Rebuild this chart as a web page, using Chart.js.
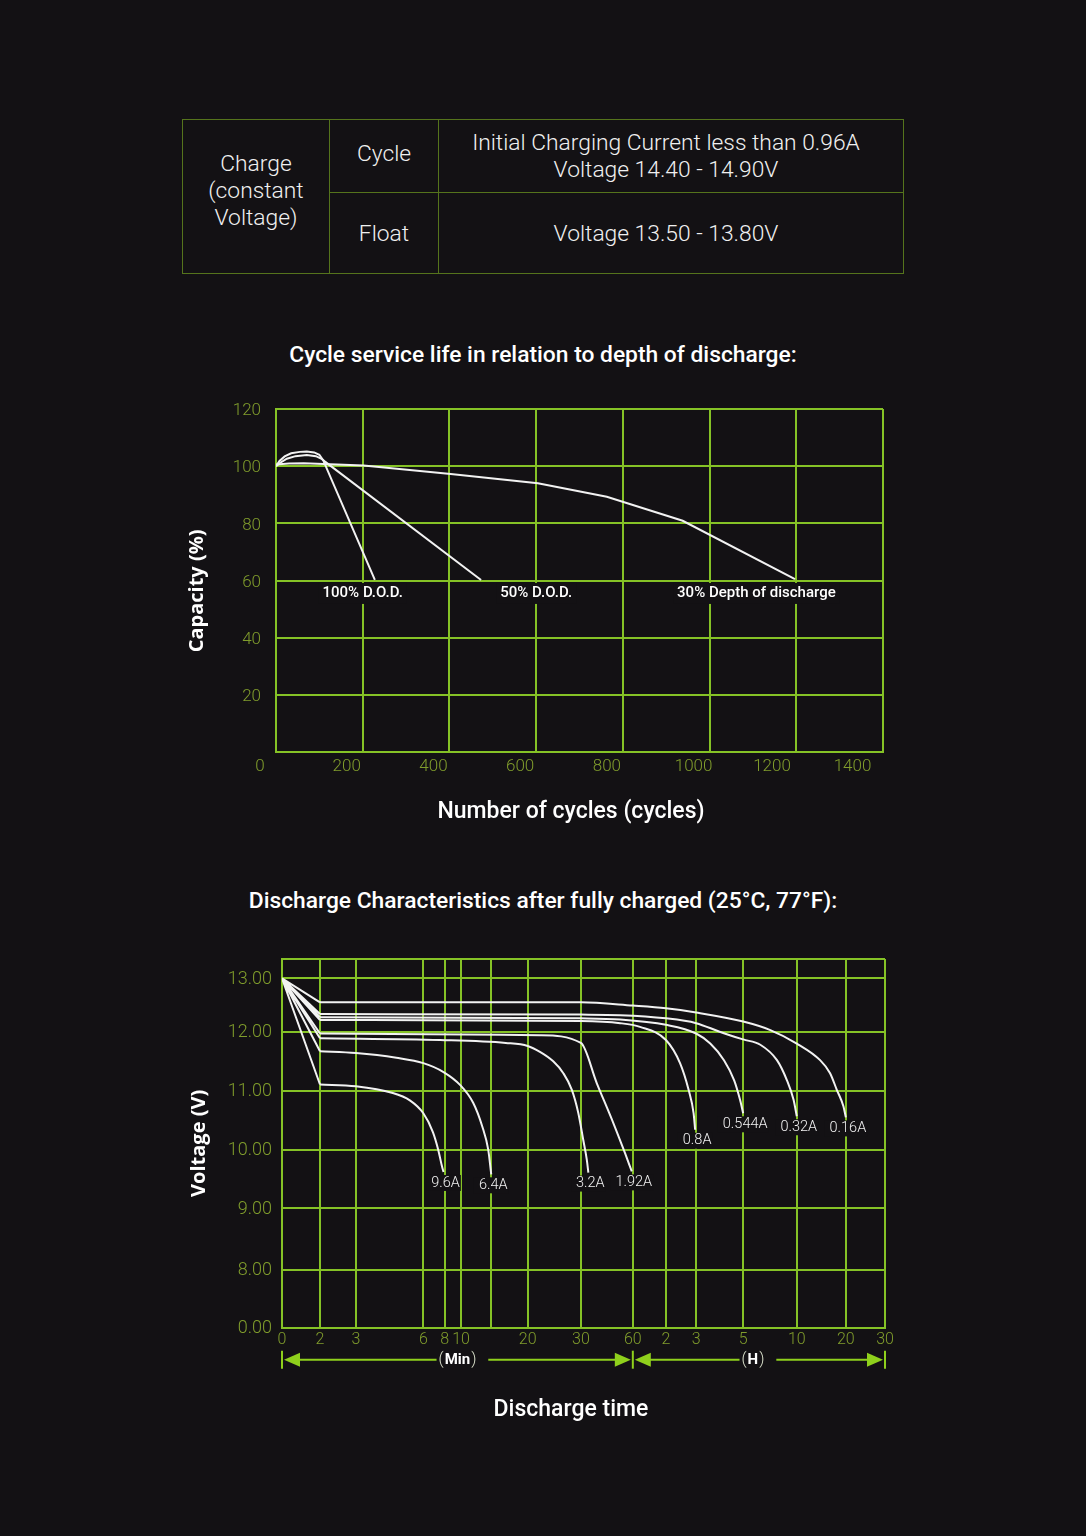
<!DOCTYPE html>
<html>
<head>
<meta charset="utf-8">
<script src="https://cdn.jsdelivr.net/npm/chart.js@4.4.1/dist/chart.umd.min.js"></script>
<style>
    body {
        margin: 0;
        background: #131114;
        width: 1086px;
        height: 1536px;
        position: relative;
        overflow: hidden;
        font-family: Roboto, sans-serif;
    }
    #spec {
        position: absolute;
        left: 182px;
        top: 119px;
        width: 722px;
        height: 155px;
        border-collapse: collapse;
        color: #f0f0f0;
        font-weight: 300;
        font-size: 22.8px;
    }
    #spec td {
        border: 1.5px solid #55741c;
        text-align: center;
        padding: 0;
        line-height: 27px;
    }
    .heading {
        position: absolute;
        left: 0;
        width: 1086px;
        text-align: center;
        color: #fff;
        font-weight: 500;
        font-size: 22.8px;
        line-height: 26px;
    }
    .axis-title {
        position: absolute;
        left: 371px;
        width: 400px;
        text-align: center;
        color: #fff;
        font-weight: 500;
        font-size: 23px;
        line-height: 26px;
    }
    canvas {
        position: absolute;
    }
</style>
</head>
<body>

<table id="spec">
    <tr style="height:73px">
        <td rowspan="2" style="width:146px; padding-bottom:12px">Charge<br>(constant<br>Voltage)</td>
        <td style="width:108px; padding-bottom:6px">Cycle</td>
        <td style="padding-right:10px">Initial Charging Current less than 0.96A<br>Voltage 14.40 - 14.90V</td>
    </tr>
    <tr style="height:81px">
        <td>Float</td>
        <td style="padding-right:10px">Voltage 13.50 - 13.80V</td>
    </tr>
</table>

<div class="heading" style="top:342px">Cycle service life in relation to depth of discharge:</div>
<canvas id="cycleChart" width="720" height="440" style="left:180px; top:395px"></canvas>
<div class="axis-title" style="top:798px">Number of cycles (cycles)</div>

<div class="heading" style="top:888px">Discharge Characteristics after fully charged (25°C, 77°F):</div>
<canvas id="dischargeChart" width="720" height="500" style="left:180px; top:940px"></canvas>
<div class="axis-title" style="top:1396px">Discharge time</div>

<script>
// cycle life chart
const cycleTicks = [0, 200, 400, 600, 800, 1000, 1200, 1400];
const capacityTicks = [0, 20, 40, 60, 80, 100, 120];

const dod100Cycles = [0, 8, 20, 35, 55, 71, 88, 100, 109, 228];
const dod100Capacity = [100, 101.8, 103.4, 104.5, 105, 105.1, 104.8, 104, 102, 60.2];
const dod50Cycles = [0, 10, 25, 45, 71, 92, 105, 113, 473];
const dod50Capacity = [100, 101.2, 102.6, 103.5, 103.9, 103.5, 102.6, 101.6, 60.2];
const dod30Cycles = [0, 30, 64, 202, 403, 604, 763, 938, 1197];
const dod30Capacity = [100.6, 100.9, 101, 100.2, 97.3, 94, 89.3, 80.9, 60.5];
const dodLabels = ["100% D.O.D.", "50% D.O.D.", "30% Depth of discharge"];

// discharge chart (time in minutes, voltage in V)
const timeTicks = [0, 2, 3, 6, 8, 10, 15, 20, 30, 60, 120, 180, 300, 600, 1200, 1800];
const timeTickLabels = ["0", "2", "3", "6", "8", "10", "", "20", "30", "60", "2", "3", "5", "10", "20", "30"];
const voltTicks = [0, 8, 9, 10, 11, 12, 13, 13.36];
const voltTickLabels = ["0.00", "8.00", "9.00", "10.00", "11.00", "12.00", "13.00", ""];

const currents = ["9.6A", "6.4A", "3.2A", "1.92A", "0.8A", "0.544A", "0.32A", "0.16A"];
const time9_6 = [0, 2, 3, 4.6, 5.4, 6, 6.9, 7.4, 7.75, 7.9];
const volt9_6 = [13, 11.11, 11.08, 10.97, 10.84, 10.62, 10.3, 10.0, 9.72, 9.62];
const time6_4 = [0, 2, 3, 4.8, 6, 7.9, 9.9, 12, 13.5, 14.5, 15];
const volt6_4 = [13, 11.67, 11.64, 11.56, 11.47, 11.32, 11.1, 10.8, 10.4, 10.0, 9.58];
const time3_2 = [0, 2, 7.6, 17, 20, 22.3, 24.8, 26.7, 28.3, 29.5, 31.4, 33.4, 34.3];
const volt3_2 = [13, 11.89, 11.86, 11.81, 11.76, 11.66, 11.5, 11.3, 11.02, 10.63, 10.16, 9.83, 9.61];
const time1_92 = [0, 2, 22.3, 30, 39.2, 48.8, 55.5, 59.4];
const volt1_92 = [13, 11.97, 11.94, 11.81, 11.13, 10.45, 9.94, 9.63];
const time0_8 = [0, 2, 30, 52.7, 73, 120, 148, 165, 175, 178];
const volt0_8 = [13, 12.22, 12.2, 12.16, 12.09, 11.86, 11.47, 11.02, 10.62, 10.34];
const time0_544 = [0, 2, 30, 52.7, 120, 180, 216, 251, 277, 292, 300];
const volt0_544 = [13, 12.27, 12.25, 12.23, 12.13, 11.97, 11.8, 11.52, 11.18, 10.85, 10.62];
const time0_32 = [0, 2, 30, 52.7, 120, 180, 240, 300, 396, 489, 545, 582, 600];
const volt0_32 = [13, 12.33, 12.32, 12.31, 12.25, 12.16, 12.0, 11.87, 11.78, 11.52, 11.18, 10.85, 10.57];
const time0_16 = [0, 2, 30, 60, 120, 180, 300, 452, 600, 885, 1007, 1089, 1170, 1200];
const volt0_16 = [13, 12.55, 12.55, 12.49, 12.44, 12.36, 12.19, 12.03, 11.8, 11.52, 11.3, 11.02, 10.74, 10.55];

const dischargeTimes = [time9_6, time6_4, time3_2, time1_92, time0_8, time0_544, time0_32, time0_16];
const dischargeVolts = [volt9_6, volt6_4, volt3_2, volt1_92, volt0_8, volt0_544, volt0_32, volt0_16];

const BG = "#131114";
const GRID = "#85c226";
const TICK = "#809d2c";
const LINE = "#f2f2f2";
const ARROW = "#8fd01c";

function points(xs, ys) {
    return xs.map((x, i) => ({ x: x, y: ys[i] }));
}

// linear scale with hand-placed (uneven) tick positions, like the printed datasheet axis
class BreakScale extends Chart.LinearScale {
    static id = "breaks";

    buildTicks() {
        return this.options.tickValues.map(v => ({ value: v }));
    }

    toDecimal(value) {
        const vals = this.options.tickValues;
        const pos = this.options.tickPositions;
        if (value <= vals[0]) return pos[0];
        for (let i = 1; i < vals.length; i++) {
            if (value <= vals[i]) {
                return pos[i - 1] + (value - vals[i - 1]) / (vals[i] - vals[i - 1]) * (pos[i] - pos[i - 1]);
            }
        }
        return pos[pos.length - 1];
    }

    getPixelForValue(value) {
        if (value === null || value === undefined) return NaN;
        return this.getPixelForDecimal(this.toDecimal(value));
    }

    getValueForPixel(pixel) {
        const d = this.getDecimalForPixel(pixel);
        const vals = this.options.tickValues;
        const pos = this.options.tickPositions;
        for (let i = 1; i < pos.length; i++) {
            if (d <= pos[i]) {
                return vals[i - 1] + (d - pos[i - 1]) / (pos[i] - pos[i - 1]) * (vals[i] - vals[i - 1]);
            }
        }
        return vals[vals.length - 1];
    }
}
Chart.register(BreakScale);

function noEdgePadding(scale) {
    scale.paddingTop = 0;
    scale.paddingBottom = 0;
    scale.paddingLeft = 0;
    scale.paddingRight = 0;
}

const dodLabelPlugin = {
    id: "dodLabels",
    afterDatasetsDraw(chart, args, opts) {
        const ctx = chart.ctx;
        const xs = chart.scales.x, ys = chart.scales.y;
        ctx.save();
        ctx.font = "500 15px Roboto";
        ctx.textAlign = "center";
        ctx.textBaseline = "middle";
        dodLabels.forEach((text, i) => {
            const px = xs.getPixelForValue(opts.at[i]);
            const py = ys.getPixelForValue(opts.level);
            const w = ctx.measureText(text).width;
            ctx.fillStyle = BG;
            ctx.fillRect(px - w / 2 - 4, py - 9, w + 8, 21);
            ctx.fillStyle = "#ffffff";
            ctx.fillText(text, px, py + 1);
        });
        ctx.restore();
    }
};

const endLabelPlugin = {
    id: "endLabels",
    afterDatasetsDraw(chart) {
        const ctx = chart.ctx;
        ctx.save();
        ctx.font = "300 14.5px Roboto";
        ctx.textAlign = "center";
        ctx.textBaseline = "middle";
        chart.data.datasets.forEach((ds, i) => {
            if (ds.fan) return;
            const pts = chart.getDatasetMeta(i).data;
            const p = pts[pts.length - 1];
            const w = ctx.measureText(ds.label).width;
            ctx.fillStyle = BG;
            ctx.fillRect(p.x - w / 2 - 3, p.y + 3, w + 6, 16);
            ctx.fillStyle = LINE;
            ctx.fillText(ds.label, p.x + 2, p.y + 11);
        });
        ctx.restore();
    }
};

const arrowPlugin = {
    id: "timeArrows",
    afterDraw(chart) {
        const ctx = chart.ctx;
        const xs = chart.scales.x;
        const y = chart.chartArea.bottom + 32;
        const a = xs.getPixelForValue(0);
        const m = xs.getPixelForValue(60);
        const b = xs.getPixelForValue(1800);

        ctx.save();
        ctx.strokeStyle = ARROW;
        ctx.fillStyle = ARROW;
        ctx.lineWidth = 2;
        [a, m, b].forEach(px => {
            ctx.beginPath();
            ctx.moveTo(px, y - 9);
            ctx.lineTo(px, y + 9);
            ctx.stroke();
        });

        function head(tip, dir) {
            ctx.fillStyle = ARROW;
            ctx.beginPath();
            ctx.moveTo(tip, y);
            ctx.lineTo(tip + dir * 16, y - 7);
            ctx.lineTo(tip + dir * 16, y + 7);
            ctx.closePath();
            ctx.fill();
        }

        function span(from, to, word, shift) {
            const mid = (from + to) / 2 + shift;
            ctx.font = "300 16px Roboto";
            const pw = ctx.measureText("(").width;
            ctx.font = "700 15px Roboto";
            const ww = ctx.measureText(word).width;
            const total = pw * 2 + ww + 2;
            head(from + 2, 1);
            head(to - 2, -1);
            ctx.beginPath();
            ctx.moveTo(from + 16, y);
            ctx.lineTo(mid - total / 2 - 2, y);
            ctx.moveTo(mid + total / 2 + 12, y);
            ctx.lineTo(to - 16, y);
            ctx.stroke();

            ctx.textBaseline = "middle";
            ctx.textAlign = "left";
            let x = mid - total / 2;
            ctx.fillStyle = "#dfe6d0";
            ctx.font = "300 16px Roboto";
            ctx.fillText("(", x, y);
            x += pw + 1;
            ctx.fillStyle = "#ffffff";
            ctx.font = "700 15px Roboto";
            ctx.fillText(word, x, y + 1);
            x += ww + 1;
            ctx.fillStyle = "#dfe6d0";
            ctx.font = "300 16px Roboto";
            ctx.fillText(")", x, y);
        }

        span(a, m, "Min", 0);
        span(m, b, "H", -6);
        ctx.restore();
    }
};

function lineSet(label, data, monotone) {
    return {
        label: label,
        data: data,
        borderColor: LINE,
        borderWidth: 2,
        pointRadius: 0,
        fill: false,
        cubicInterpolationMode: monotone ? "monotone" : "default",
        tension: 0
    };
}

// shift of the printed x labels to the left of their grid line
const cycleLabelShift = { 1200: 4, 1400: 7 };

new Chart(document.getElementById("cycleChart").getContext("2d"), {
    type: "line",
    data: {
        datasets: [
            lineSet("100% D.O.D.", points(dod100Cycles, dod100Capacity), false),
            lineSet("50% D.O.D.", points(dod50Cycles, dod50Capacity), false),
            lineSet("30% Depth of discharge", points(dod30Cycles, dod30Capacity), false)
        ]
    },
    options: {
        responsive: false,
        animation: false,
        layout: { padding: { left: 0, right: 17, top: 14, bottom: 0 } },
        plugins: {
            legend: { display: false },
            tooltip: { enabled: false },
            dodLabels: { at: [200, 600, 1108], level: 56 }
        },
        scales: {
            x: {
                type: "linear",
                min: cycleTicks[0],
                max: cycleTicks[cycleTicks.length - 1],
                afterBuildTicks: scale => { scale.ticks = cycleTicks.map(v => ({ value: v })); },
                afterFit: scale => { scale.height = 83; noEdgePadding(scale); },
                grid: { color: GRID, lineWidth: 2, drawTicks: false },
                border: { color: GRID, width: 2 },
                ticks: {
                    color: TICK,
                    font: { family: "Roboto", size: 17, weight: "300" },
                    padding: 5,
                    labelOffset: -16,
                    maxRotation: 0,
                    autoSkip: false,
                    callback: v => String(v) + " ".repeat(cycleLabelShift[v] || 0)
                }
            },
            y: {
                type: "linear",
                min: capacityTicks[0],
                max: capacityTicks[capacityTicks.length - 1],
                afterBuildTicks: scale => { scale.ticks = capacityTicks.map(v => ({ value: v })); },
                afterFit: scale => { scale.width = 96; noEdgePadding(scale); },
                grid: { color: GRID, lineWidth: 2, drawTicks: false },
                border: { color: GRID, width: 2 },
                ticks: {
                    color: TICK,
                    font: { family: "Roboto", size: 17, weight: "300" },
                    padding: 15,
                    labelOffset: 2,
                    callback: v => (v === 0 ? "" : String(v))
                },
                title: {
                    display: true,
                    // trailing spaces move the rotated title down a little, as printed
                    text: "Capacity (%)    ",
                    color: "#ffffff",
                    font: { family: "Open Sans", size: 20, weight: "700" },
                    padding: { top: 5, bottom: 0 }
                }
            }
        }
    },
    plugins: [dodLabelPlugin]
});

// the straight first-minute drop of every curve, drawn as one broken line so the corners stay sharp
const fanData = [];
dischargeTimes.forEach((ts, i) => {
    fanData.push({ x: ts[0], y: dischargeVolts[i][0] });
    fanData.push({ x: ts[1], y: dischargeVolts[i][1] });
    fanData.push({ x: ts[1], y: null });
});
const fanSet = lineSet("start", fanData, false);
fanSet.fan = true;

const dischargeSets = currents.map((c, i) =>
    lineSet(c, points(dischargeTimes[i].slice(1), dischargeVolts[i].slice(1)), true));

new Chart(document.getElementById("dischargeChart").getContext("2d"), {
    type: "line",
    data: {
        datasets: [fanSet].concat(dischargeSets)
    },
    options: {
        responsive: false,
        animation: false,
        spanGaps: false,
        layout: { padding: { left: 0, right: 15, top: 19, bottom: 0 } },
        plugins: {
            legend: { display: false },
            tooltip: { enabled: false }
        },
        scales: {
            x: {
                type: "breaks",
                min: timeTicks[0],
                max: timeTicks[timeTicks.length - 1],
                tickValues: timeTicks,
                tickPositions: [0, 0.063, 0.1225, 0.2344, 0.2696, 0.297, 0.347, 0.4074, 0.4957,
                    0.5818, 0.6367, 0.6868, 0.7648, 0.8537, 0.9351, 1],
                afterFit: scale => { scale.height = 112.3; noEdgePadding(scale); },
                grid: { color: GRID, lineWidth: 2, drawTicks: false },
                border: { color: GRID, width: 2 },
                ticks: {
                    color: TICK,
                    font: { family: "Roboto", size: 16, weight: "300" },
                    padding: 3,
                    maxRotation: 0,
                    autoSkip: false,
                    callback: (v, i) => timeTickLabels[i]
                }
            },
            y: {
                type: "breaks",
                min: voltTicks[0],
                max: voltTicks[voltTicks.length - 1],
                tickValues: voltTicks,
                tickPositions: [0, 0.1565, 0.3238, 0.4828, 0.642, 0.8028, 0.9477, 1],
                afterFit: scale => { scale.width = 102; noEdgePadding(scale); },
                grid: { color: GRID, lineWidth: 2, drawTicks: false },
                border: { color: GRID, width: 2 },
                ticks: {
                    color: TICK,
                    font: { family: "Roboto", size: 18, weight: "300" },
                    padding: 10,
                    labelOffset: 1,
                    autoSkip: false,
                    callback: (v, i) => voltTickLabels[i]
                },
                title: {
                    display: true,
                    text: "Voltage (V)",
                    color: "#ffffff",
                    font: { family: "Open Sans", size: 20, weight: "700" },
                    padding: { top: 7, bottom: 0 }
                }
            }
        }
    },
    plugins: [endLabelPlugin, arrowPlugin]
});
</script>
</body>
</html>
